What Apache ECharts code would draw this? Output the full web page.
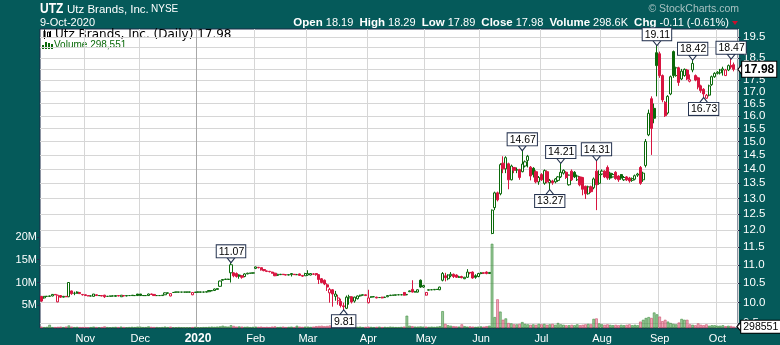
<!DOCTYPE html>
<html><head><meta charset="utf-8">
<script src="https://cdn.jsdelivr.net/npm/echarts@6/dist/echarts.min.js"></script>
<style>html,body{margin:0;padding:0;background:#055a5a;}#c{width:780px;height:345px;}</style>
</head><body><div id="c"></div><script>
// ---------- DATA ----------
const monthDays = [
 ['2019-10',[10,11,14,15,16,17,18,21,22,23,24,25,28,29,30,31]],
 ['2019-11',[1,4,5,6,7,8,11,12,13,14,15,18,19,20,21,22,25,26,27,29]],
 ['2019-12',[2,3,4,5,6,9,10,11,12,13,16,17,18,19,20,23,24,26,27,30,31]],
 ['2020-01',[2,3,6,7,8,9,10,13,14,15,16,17,21,22,23,24,27,28,29,30,31]],
 ['2020-02',[3,4,5,6,7,10,11,12,13,14,18,19,20,21,24,25,26,27,28]],
 ['2020-03',[2,3,4,5,6,9,10,11,12,13,16,17,18,19,20,23,24,25,26,27,30,31]],
 ['2020-04',[1,2,3,6,7,8,9,13,14,15,16,17,20,21,22,23,24,27,28,29,30]],
 ['2020-05',[1,4,5,6,7,8,11,12,13,14,15,18,19,20,21,22,26,27,28,29]],
 ['2020-06',[1,2,3,4,5,8,9,10,11,12,15,16,17,18,19,22,23,24,25,26,29,30]],
 ['2020-07',[1,2,6,7,8,9,10,13,14,15,16,17,20,21,22,23,24,27,28,29,30,31]],
 ['2020-08',[3,4,5,6,7,10,11,12,13,14,17,18,19,20,21,24,25,26,27,28,31]],
 ['2020-09',[1,2,3,4,8,9,10,11,14,15,16,17,18,21,22,23,24,25,28,29,30]],
 ['2020-10',[1,2,5,6,7,8,9]]
];
// candles: [open, close, low, high]
const candlesOct19 = [[10.16,10.04,10.02,10.17],[10.12,10.16,10.10,10.17],[10.16,10.16,10.15,10.17],[10.16,10.17,10.15,10.18],[10.17,10.21,10.16,10.22],[10.21,10.20,10.19,10.22],[10.02,10.19,10.01,10.20],[10.18,10.14,10.12,10.19],[10.14,10.16,10.13,10.17],[10.16,10.15,10.14,10.17],[10.15,10.52,10.14,10.53],[10.30,10.23,10.20,10.31],[10.24,10.24,10.19,10.28],[10.27,10.24,10.23,10.29],[10.26,10.23,10.22,10.27],[10.21,10.20,10.18,10.22]];
const candlesNov19 = [[10.20,10.18,10.17,10.21],[10.18,10.17,10.16,10.18],[10.17,10.17,10.16,10.18],[10.16,10.22,10.16,10.22],[10.20,10.18,10.17,10.21],[10.18,10.18,10.17,10.19],[10.18,10.17,10.16,10.19],[10.19,10.15,10.12,10.20],[10.16,10.16,10.15,10.17],[10.16,10.17,10.16,10.18],[10.17,10.17,10.16,10.18],[10.16,10.18,10.15,10.19],[10.18,10.17,10.16,10.18],[10.15,10.19,10.15,10.19],[10.18,10.17,10.16,10.19],[10.17,10.18,10.16,10.18],[10.18,10.18,10.17,10.19],[10.19,10.18,10.17,10.19],[10.18,10.18,10.17,10.19],[10.22,10.18,10.17,10.22]];
const candlesDec19 = [[10.22,10.18,10.17,10.22],[10.18,10.18,10.17,10.19],[10.18,10.18,10.17,10.19],[10.18,10.22,10.17,10.23],[10.22,10.21,10.20,10.23],[10.21,10.18,10.17,10.22],[10.18,10.18,10.17,10.19],[10.18,10.18,10.17,10.19],[10.18,10.19,10.17,10.19],[10.20,10.25,10.20,10.26],[10.24,10.25,10.23,10.26],[10.17,10.23,10.16,10.23],[10.26,10.26,10.25,10.27],[10.27,10.27,10.26,10.27],[10.27,10.27,10.26,10.27],[10.27,10.27,10.26,10.27],[10.27,10.27,10.26,10.27],[10.27,10.27,10.26,10.27],[10.27,10.27,10.26,10.28],[10.20,10.26,10.19,10.27],[10.26,10.27,10.26,10.27]];
const candlesJan20 = [[10.27,10.27,10.26,10.28],[10.27,10.27,10.26,10.28],[10.27,10.27,10.26,10.28],[10.27,10.28,10.26,10.28],[10.28,10.31,10.27,10.31],[10.30,10.31,10.30,10.32],[10.31,10.35,10.30,10.36],[10.34,10.36,10.33,10.37],[10.42,10.56,10.41,10.57],[10.58,10.60,10.57,10.61],[10.60,10.61,10.59,10.62],[10.60,10.61,10.60,10.62],[10.78,11.00,10.52,11.07],[10.78,10.70,10.66,10.79],[10.76,10.68,10.65,10.79],[10.72,10.69,10.62,10.74],[10.70,10.66,10.62,10.71],[10.68,10.75,10.66,10.77],[10.75,10.77,10.74,10.78],[10.77,10.77,10.76,10.78],[10.77,10.78,10.76,10.78]];
const candlesFeb20 = [[10.90,10.94,10.88,10.95],[10.93,10.92,10.90,10.94],[10.92,10.86,10.84,10.92],[10.87,10.84,10.82,10.88],[10.83,10.82,10.80,10.84],[10.82,10.81,10.79,10.83],[10.80,10.77,10.76,10.81],[10.77,10.70,10.69,10.78],[10.71,10.74,10.70,10.75],[10.73,10.74,10.72,10.75],[10.74,10.73,10.72,10.75],[10.73,10.72,10.71,10.74],[10.72,10.73,10.71,10.74],[10.73,10.76,10.68,10.77],[10.74,10.73,10.72,10.75],[10.73,10.73,10.72,10.75],[10.75,10.71,10.70,10.76],[10.71,10.69,10.67,10.72],[10.70,10.76,10.70,10.78]];
const candlesMar20 = [[10.72,10.76,10.70,10.85],[10.72,10.76,10.71,10.77],[10.74,10.75,10.72,10.77],[10.76,10.73,10.70,10.77],[10.73,10.60,10.48,10.74],[10.62,10.52,10.50,10.64],[10.58,10.48,10.45,10.60],[10.46,10.40,10.30,10.50],[10.25,10.34,10.00,10.38],[10.33,10.22,9.90,10.35],[10.16,10.22,10.05,10.30],[10.05,10.12,9.95,10.20],[10.03,9.93,9.88,10.10],[9.92,9.90,9.81,10.00],[9.86,10.14,9.84,10.18],[10.12,10.15,9.95,10.20],[10.15,10.02,9.98,10.16],[10.04,10.14,10.00,10.15],[10.10,10.17,10.08,10.18],[10.17,10.19,10.15,10.20],[10.19,10.20,10.18,10.21],[10.20,10.18,10.17,10.21]];
const candlesApr20 = [[10.00,10.12,9.98,10.33],[10.14,10.15,10.12,10.16],[10.15,10.15,10.14,10.16],[10.14,10.12,10.11,10.15],[10.13,10.13,10.12,10.14],[10.14,10.12,10.11,10.15],[10.13,10.14,10.12,10.15],[10.15,10.18,10.14,10.19],[10.18,10.19,10.17,10.20],[10.19,10.19,10.18,10.20],[10.19,10.20,10.18,10.20],[10.20,10.20,10.19,10.21],[10.20,10.20,10.19,10.21],[10.26,10.19,10.18,10.27],[10.20,10.21,10.19,10.22],[10.28,10.30,10.27,10.31],[10.34,10.27,10.26,10.58],[10.27,10.28,10.26,10.30],[10.27,10.33,10.26,10.34],[10.58,10.40,10.38,10.60],[10.40,10.44,10.38,10.46]];
const candlesMay20 = [[10.19,10.26,10.18,10.27],[10.32,10.33,10.31,10.34],[10.33,10.33,10.32,10.34],[10.33,10.34,10.32,10.34],[10.34,10.34,10.33,10.35],[10.33,10.40,10.32,10.41],[10.58,10.76,10.55,10.80],[10.70,10.65,10.55,10.78],[10.62,10.72,10.58,10.74],[10.70,10.74,10.66,10.80],[10.74,10.68,10.64,10.76],[10.72,10.66,10.64,10.74],[10.66,10.67,10.64,10.70],[10.68,10.65,10.63,10.70],[10.62,10.66,10.61,10.67],[10.66,10.80,10.64,10.88],[10.78,10.79,10.74,10.80],[10.80,10.64,10.62,10.82],[10.70,10.66,10.62,10.74],[10.68,10.76,10.66,10.78]];
const candlesJun20 = [[10.76,10.78,10.74,10.80],[10.78,10.77,10.75,10.79],[10.80,10.76,10.74,10.82],[10.76,10.79,10.75,10.80],[11.90,12.62,11.88,12.64],[12.70,13.18,12.62,13.22],[13.18,12.95,12.90,13.22],[13.15,14.15,13.10,14.20],[14.20,14.00,13.85,14.45],[14.00,14.40,13.85,14.45],[14.18,13.62,13.30,14.22],[13.62,14.10,13.60,14.15],[14.05,13.95,13.85,14.05],[13.95,13.98,13.85,14.05],[13.98,13.70,13.62,14.00],[13.90,14.17,13.88,14.67],[14.10,14.25,14.05,14.30],[14.30,14.45,14.05,14.50],[14.06,13.75,13.60,14.10],[14.02,13.80,13.70,14.06],[13.90,13.55,13.50,13.95],[13.55,13.70,13.45,13.75]];
const candlesJul20 = [[13.80,13.62,13.58,13.85],[13.50,13.94,13.45,13.98],[13.90,13.55,13.50,13.95],[13.52,13.60,13.27,13.65],[13.58,13.52,13.45,13.62],[13.55,13.65,13.50,13.68],[13.60,13.72,13.55,13.75],[13.72,13.88,13.68,14.21],[13.85,13.95,13.80,13.98],[13.88,13.70,13.65,13.92],[13.45,13.78,13.42,13.80],[13.92,13.62,13.58,13.98],[13.88,13.72,13.68,13.92],[13.62,13.75,13.58,13.80],[13.72,13.45,13.40,13.75],[13.70,13.30,13.10,13.72],[13.40,13.15,12.98,13.42],[13.15,13.38,13.12,13.42],[13.38,13.22,13.18,13.42],[13.35,13.65,13.30,13.70],[13.92,13.45,12.62,14.31],[13.50,13.80,13.45,13.95]];
const candlesAug20 = [[13.82,13.92,13.78,13.98],[13.92,13.72,13.68,13.95],[14.05,13.68,13.62,14.12],[13.85,13.68,13.62,13.90],[13.72,13.80,13.70,13.85],[13.88,13.66,13.62,13.92],[13.75,13.62,13.55,13.78],[13.80,13.68,13.62,13.82],[13.62,13.70,13.58,13.75],[13.72,13.62,13.58,13.75],[13.68,13.58,13.52,13.72],[13.60,13.66,13.55,13.70],[13.64,13.76,13.60,13.80],[13.78,13.82,13.72,13.86],[14.05,13.50,13.45,14.10],[13.62,13.85,13.55,13.90],[14.12,15.00,14.05,15.09],[15.25,16.10,15.20,16.25],[16.70,15.50,14.50,16.80],[16.30,15.90,15.70,16.50],[18.75,18.15,16.80,19.11]];
const candlesSep20 = [[18.70,17.70,17.60,18.80],[17.70,16.65,16.55,17.75],[16.55,16.00,15.95,16.60],[16.11,16.80,16.05,16.85],[16.90,17.65,16.85,17.70],[18.80,17.70,17.60,18.85],[17.70,18.05,17.65,18.10],[18.05,17.40,17.25,18.10],[17.55,17.90,17.50,18.00],[17.70,17.98,17.65,18.02],[17.95,17.55,17.50,18.00],[17.45,17.52,17.40,17.75],[17.95,18.25,17.85,18.42],[17.70,17.50,17.45,17.75],[17.60,17.20,17.10,17.65],[17.25,17.05,16.95,17.30],[17.10,16.90,16.73,17.15],[16.72,16.85,16.70,16.90],[16.85,17.25,16.80,17.30],[17.30,17.65,17.25,17.70],[17.65,17.80,17.60,17.85]];
const candlesOct20 = [[17.80,17.85,17.75,17.90],[17.82,17.95,17.75,18.00],[17.95,18.00,17.70,18.10],[17.70,17.95,17.68,18.00],[17.95,18.15,17.90,18.20],[18.15,18.09,18.00,18.47],[18.19,17.98,17.89,18.29]];
// daily volume, millions of shares
const volOct19 = [0.3,0.2,0.25,0.7,0.2,0.2,0.25,0.3,0.2,0.3,0.55,0.3,0.2,0.25,0.2,0.2];
const volNov19 = [0.2,0.15,0.2,0.3,0.2,0.15,0.2,0.35,0.2,0.15,0.2,0.25,0.2,0.3,0.2,0.15,0.2,0.25,0.2,0.3];
const volDec19 = [0.3,0.2,0.2,0.35,0.25,0.2,0.2,0.15,0.2,0.3,0.2,0.3,0.15,0.15,0.2,0.15,0.1,0.1,0.15,0.2,0.25];
const volJan20 = [0.15,0.15,0.2,0.2,0.25,0.3,0.25,0.3,0.35,0.5,0.35,0.3,0.6,0.45,0.3,0.35,0.3,0.25,0.3,0.2,0.25];
const volFeb20 = [0.3,0.25,0.3,0.2,0.25,0.2,0.3,0.35,0.2,0.25,0.3,0.2,0.25,0.3,0.2,0.5,0.3,0.25,0.3];
const volMar20 = [0.3,0.25,0.3,0.4,0.45,0.5,0.4,0.45,0.55,0.5,0.6,0.45,0.5,0.55,0.4,0.35,0.3,0.3,0.25,0.3,0.2,0.25];
const volApr20 = [0.3,0.25,0.2,0.25,0.3,0.2,0.25,0.2,0.3,0.25,0.2,0.2,0.25,0.3,2.7,0.5,0.4,0.3,0.3,0.35,0.3];
const volMay20 = [0.3,0.25,0.3,0.25,0.3,0.4,3.7,0.9,0.6,0.5,0.4,0.35,0.3,0.8,0.4,0.3,0.35,0.3,0.25,0.3];
const volJun20 = [0.35,0.3,0.4,0.5,18.5,2.4,6.3,3.6,1.8,2.1,1.1,1.0,0.8,0.8,0.9,1.3,0.9,0.8,0.7,0.8,0.7,0.9];
const volJul20 = [0.8,0.9,0.7,0.8,0.9,0.7,1.1,0.8,0.7,0.6,0.6,0.7,0.6,0.8,0.6,0.7,0.8,0.9,0.8,2.0,2.1,1.0];
const volAug20 = [0.8,0.7,0.8,0.7,0.6,0.7,0.6,0.7,0.6,0.7,0.8,0.6,0.7,0.6,1.4,1.8,2.2,2.4,2.2,3.4,3.0];
const volSep20 = [2.5,1.5,1.8,1.4,1.1,0.9,0.8,1.2,2.0,1.8,1.8,0.8,0.7,0.6,1.0,0.7,0.6,0.8,0.5,0.6,0.6];
const volOct20 = [0.5,0.5,0.6,0.4,0.5,0.45,0.298551];
const priceTicks = [9.5,10,10.5,11,11.5,12,12.5,13,13.5,14,14.5,15,15.5,16,16.5,17,17.5,18,18.5,19,19.5];
const volTicks = [5,10,15,20];
const peakDates = ['2020-01-21','2020-06-22','2020-07-13','2020-07-30','2020-08-31','2020-09-18','2020-10-08'];
const troughDates = ['2020-03-19','2020-07-07','2020-09-24'];
const monthNames = ['Jan','Feb','Mar','Apr','May','Jun','Jul','Aug','Sep','Oct','Nov','Dec'];

// ---------- BUILD ----------
const dates = [];
monthDays.forEach(([ym, days]) => days.forEach(d => dates.push(ym + '-' + String(d).padStart(2, '0'))));
const ohlc = [].concat(candlesOct19, candlesNov19, candlesDec19, candlesJan20, candlesFeb20, candlesMar20, candlesApr20, candlesMay20, candlesJun20, candlesJul20, candlesAug20, candlesSep20, candlesOct20);
const volumes = [].concat(volOct19, volNov19, volDec19, volJan20, volFeb20, volMar20, volApr20, volMay20, volJun20, volJul20, volAug20, volSep20, volOct20);
const n = dates.length;
const upDay = ohlc.map((c, i) => i === 0 ? c[1] >= c[0] : c[1] >= ohlc[i - 1][1]);
const greenCandles = ohlc.map((c, i) => upDay[i] ? c : '-');
const redCandles = ohlc.map((c, i) => upDay[i] ? '-' : c);
const greenVol = volumes.map((v, i) => upDay[i] ? v : '-');
const redVol = volumes.map((v, i) => upDay[i] ? '-' : v);
const monthStart = dates.map((d, i) => i > 0 && d.slice(0, 7) !== dates[i - 1].slice(0, 7));
const gridColors = dates.filter((d, i) => monthStart[i]).map(d => d.slice(5, 7) === '01' ? '#a8a8a8' : '#d6d6d6');
const last = ohlc[n - 1], prevClose = ohlc[n - 2][1];
const lastVolShares = Math.round(volumes[n - 1] * 1e6);
const chg = last[1] - prevClose;

const G = '#0a690a', R = '#d81540', NAVY = '#24324f';
const FONT = 'Liberation Sans, Arial, sans-serif';

const peakMarks = peakDates.map(d => { const i = dates.indexOf(d); return {coord: [d, ohlc[i][3]], value: ohlc[i][3].toFixed(2)}; });
const troughMarks = troughDates.map(d => { const i = dates.indexOf(d); return {coord: [d, ohlc[i][2]], value: ohlc[i][2].toFixed(2),
  symbol: 'path://M4,0L8,5L0,5Z', symbolOffset: [0, 2], label: {position: 'bottom'}}; });
const calloutLabel = {show: true, position: 'top', distance: 0, formatter: p => p.value, backgroundColor: '#fff',
  borderColor: NAVY, borderWidth: 1, padding: [1, 1, 0, 2], color: '#000', fontSize: 10.5, fontFamily: FONT, lineHeight: 11};

const chart = echarts.init(document.getElementById('c'), null, {renderer: 'canvas'});
chart.setOption({
  animation: false,
  backgroundColor: '#055a5a',
  grid: {left: 40, top: 29, width: 698, height: 299, show: true, backgroundColor: '#fff', borderColor: '#1b2a46', borderWidth: 1},
  xAxis: {
    type: 'category', data: dates, max: n, boundaryGap: true,
    axisLine: {show: false}, axisTick: {show: false},
    axisLabel: {interval: i => !!monthStart[i], color: '#fff', fontSize: 11, fontFamily: FONT, margin: 5,
      formatter: v => { const m = +v.slice(5, 7); return m === 1 ? '{b|' + v.slice(0, 4) + '}' : monthNames[m - 1]; },
      rich: {b: {fontWeight: 'bold', color: '#fff', fontSize: 12, fontFamily: FONT}}},
    splitLine: {show: true, interval: i => !!monthStart[i], lineStyle: {color: gridColors, width: 1}}
  },
  yAxis: [
    {type: 'value', position: 'left', min: 0, max: 65.7,
      axisLine: {show: false}, splitLine: {show: false},
      axisTick: {show: true, length: 3, customValues: volTicks, lineStyle: {color: NAVY}},
      axisLabel: {customValues: volTicks, formatter: v => v + 'M', color: '#fff', fontSize: 11, fontFamily: FONT, margin: 3,
        showMinLabel: true, showMaxLabel: true}},
    {type: 'log', logBase: 10, position: 'right', min: 9.383, max: 19.9,
      axisLine: {show: false},
      axisTick: {show: true, length: 3, customValues: priceTicks, lineStyle: {color: NAVY}},
      axisLabel: {customValues: priceTicks, formatter: v => (+v).toFixed(1), color: '#fff', fontSize: 11.5, fontFamily: FONT, margin: 5,
        showMinLabel: true, showMaxLabel: true, hideOverlap: false},
      splitLine: {show: true, lineStyle: {color: '#d6d6d6'}}}
  ],
  series: [
    {name: 'VolUp', type: 'bar', xAxisIndex: 0, yAxisIndex: 0, data: greenVol, barWidth: 2.6, barGap: '-100%', z: 1,
      itemStyle: {color: 'rgba(60,150,60,0.5)', borderColor: '#3e8e3e', borderWidth: 0.6}},
    {name: 'VolDown', type: 'bar', xAxisIndex: 0, yAxisIndex: 0, data: redVol, barWidth: 2.6, barGap: '-100%', z: 1,
      itemStyle: {color: 'rgba(225,90,120,0.5)', borderColor: '#cc4a6a', borderWidth: 0.6},
      markPoint: {symbol: 'path://M0,5L6,0L6,10Z', symbolSize: [4, 9], symbolOffset: [5, 0],
        itemStyle: {color: '#fff', borderColor: '#000', borderWidth: 1},
        label: {show: true, position: 'right', distance: 0, formatter: String(lastVolShares), backgroundColor: '#fff', borderColor: '#000',
          borderWidth: 1, padding: [1, 2, 0, 2], color: '#000', fontSize: 10.5, fontFamily: FONT, lineHeight: 11},
        data: [{coord: [dates[n - 1], volumes[n - 1]]}]}},
    {name: 'PriceUp', type: 'candlestick', xAxisIndex: 0, yAxisIndex: 1, data: greenCandles, barWidth: 2.6, z: 3,
      itemStyle: {color: '#fff', color0: G, borderColor: G, borderColor0: G, borderWidth: 1},
      markPoint: {symbol: 'path://M0,0L8,0L4,5Z', symbolSize: [8, 5], symbolOffset: [0, -2],
        itemStyle: {color: '#fff', borderColor: NAVY, borderWidth: 1}, label: calloutLabel,
        data: peakMarks.concat(troughMarks)}},
    {name: 'PriceDown', type: 'candlestick', xAxisIndex: 0, yAxisIndex: 1, data: redCandles, barWidth: 2.6, z: 3,
      itemStyle: {color: '#fff', color0: R, borderColor: R, borderColor0: R, borderWidth: 1},
      markPoint: {symbol: 'path://M0,5L6,0L6,10Z', symbolSize: [4, 10], symbolOffset: [6, 0],
        itemStyle: {color: '#fff', borderColor: '#000', borderWidth: 1},
        label: {show: true, position: 'right', distance: 0, formatter: last[1].toFixed(2), backgroundColor: '#fff', borderColor: '#000',
          borderWidth: 1, padding: [2, 2, 1, 2], color: '#000', fontWeight: 'bold', fontSize: 12, fontFamily: FONT, lineHeight: 12},
        data: [{coord: [dates[n - 1], last[1]]}]}}
  ],
  graphic: [
    {type: 'text', x: 40, y: 9, scaleX: 0.8, style: {text: 'UTZ', fill: '#fff', font: 'bold 15px ' + FONT, textVerticalAlign: 'middle'}},
    {type: 'text', x: 67, y: 9.5, style: {text: 'Utz Brands, Inc.', fill: '#fff', font: '11.5px ' + FONT, textVerticalAlign: 'middle'}},
    {type: 'text', x: 151, y: 9.5, style: {text: 'NYSE', fill: '#fff', font: '10px ' + FONT, textVerticalAlign: 'middle'}},
    {type: 'text', x: 40, y: 23, style: {text: '9-Oct-2020', fill: '#fff', font: '11px ' + FONT, textVerticalAlign: 'middle'}},
    {type: 'text', x: 739, y: 9, style: {text: '\u00a9 StockCharts.com', fill: '#a9c2c2', font: '10.5px ' + FONT, textAlign: 'right', textVerticalAlign: 'middle'}},
    {type: 'text', x: 729, y: 23, style: {
      text: '{b|Open} ' + last[0].toFixed(2) + '  {b|High} ' + last[3].toFixed(2) + '  {b|Low} ' + last[2].toFixed(2) +
        '  {b|Close} ' + last[1].toFixed(2) + '  {b|Volume} ' + (volumes[n - 1] * 1000).toFixed(1) + 'K  {b|Chg} ' +
        chg.toFixed(2) + ' (' + (chg / prevClose * 100).toFixed(2) + '%)',
      fill: '#fff', font: '11px ' + FONT, textAlign: 'right', textVerticalAlign: 'middle',
      rich: {b: {fontWeight: 'bold', fontSize: 11.5, fill: '#fff', fontFamily: FONT}}}},
    {type: 'polygon', shape: {points: [[732, 21], [738, 21], [735, 25]]}, style: {fill: '#c8102e'}},
    // legend icons and texts inside plot
    {type: 'rect', shape: {x: 43.5, y: 31, width: 2, height: 6}, style: {fill: '#000'}},
    {type: 'line', shape: {x1: 44.5, y1: 29.5, x2: 44.5, y2: 39}, style: {stroke: '#000', lineWidth: 1}},
    {type: 'rect', shape: {x: 47.5, y: 32, width: 2, height: 5}, style: {fill: '#fff', stroke: '#000', lineWidth: 1}},
    {type: 'line', shape: {x1: 50.5, y1: 31, x2: 50.5, y2: 38}, style: {stroke: '#000', lineWidth: 1}},
    {type: 'text', x: 55, y: 34.5, style: {text: 'Utz Brands, Inc. (Daily) ' + last[1].toFixed(2), fill: '#000', font: '12px DejaVu Sans, sans-serif', textVerticalAlign: 'middle'}},
    {type: 'rect', shape: {x: 42, y: 45, width: 2, height: 4}, style: {fill: G}},
    {type: 'rect', shape: {x: 45, y: 42, width: 2, height: 7}, style: {fill: G}},
    {type: 'rect', shape: {x: 48, y: 43, width: 2, height: 6}, style: {fill: G}},
    {type: 'rect', shape: {x: 51, y: 44, width: 2, height: 5}, style: {fill: G}},
    {type: 'text', x: 54, y: 45.5, style: {text: 'Volume ' + lastVolShares.toLocaleString('en-US'), fill: '#0a6a0a', font: '10px ' + FONT, textVerticalAlign: 'middle'}}
  ]
});
</script></body></html>
